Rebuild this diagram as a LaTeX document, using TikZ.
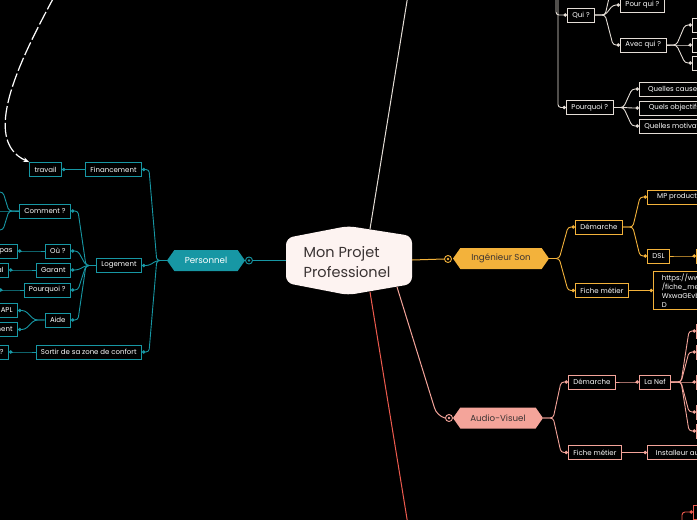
\documentclass[tikz,border=0pt]{standalone}
\usepackage{fontspec}
\setmainfont{Poppins}
\usetikzlibrary{arrows.meta, calc, shapes.symbols}
\definecolor{tealcolor}{HTML}{1797A4}
\definecolor{yellowcolor}{HTML}{F3B23B}
\definecolor{salmoncolor}{HTML}{F4A49A}
\definecolor{redcolor}{HTML}{EE5B4F}
\definecolor{whitecolor}{HTML}{E4DDD6}
\definecolor{rootfill}{HTML}{FDF3F1}
\definecolor{roottext}{HTML}{3A3333}

\tikzset{
  leaf/.style={draw=#1, fill=black, text=white, line width=0.9pt,
    font=\fontsize{7}{9}\selectfont, minimum height=14pt,
    inner xsep=5pt, inner ysep=2pt},
  topic/.style={signal, signal to=west and east, signal pointer angle=110,
    fill=#1, minimum height=21pt, inner xsep=4pt, inner ysep=0pt,
    font=\fontsize{8.7}{10}\selectfont},
  knob/.style={circle, draw=#1, fill=black, line width=0.9pt,
    minimum size=7pt, inner sep=0pt,
    path picture={\fill[#1] (path picture bounding box.center) circle (1.3pt);}},
  link/.style={draw=#1, line width=0.9pt, rounded corners=3pt,
    -{Circle[length=3.5pt]}},
  toR/.style={to path={-- ++(10,0) -- ($(\tikztotarget)+(-7,0)$) -- (\tikztotarget)}},
  toL/.style={to path={-- ++(-10,0) -- ($(\tikztotarget)+(7,0)$) -- (\tikztotarget)}},
}

\begin{document}
\begin{tikzpicture}[x=1pt, y=-1pt, >=Stealth]

  \fill[black] (0,0) rectangle (697,520);
  \useasboundingbox (0,0) rectangle (697,520);

  % centre
  \fill[rootfill, rounded corners=7pt]
    (286,238) -- (348,226) -- (412,236) -- (412,284) -- (348,295) -- (286,283) -- cycle;
  \node[minimum width=126pt, minimum height=50pt, inner sep=0pt, text=roottext,
    align=left, font=\fontsize{14.5}{20}\selectfont] (root) at (347,262)
    {Mon Projet\\Professionel};
  \coordinate (roottop) at (370,229);
  \coordinate (rootbot) at (370,292);
  \coordinate (rootav) at (397,287);
  \coordinate (wtout) at (408,-5);
  \coordinate (redout) at (408,525);

  \draw[whitecolor, line width=1pt] (roottop) -- (wtout);
  \draw[redcolor, line width=1pt] (rootbot) -- (redout);

  % Personnel
  \node[topic=tealcolor, text=white, minimum width=78pt] (pers) at (206,260.5) {Personnel};
  \node[knob=tealcolor] (persknob) at (249,260.5) {};
  \draw[tealcolor, line width=1pt] (286,260.5) -- (persknob.east);

  \node[leaf=tealcolor, anchor=east] (fin) at (142,169.5) {Financement};
  \node[leaf=tealcolor, anchor=east] (log) at (142,265.5) {Logement};
  \node[leaf=tealcolor, anchor=east] (sortir) at (142,352) {Sortir de sa zone de confort};
  \node[leaf=tealcolor, anchor=east] (trav) at (62,169.5) {travail};
  \node[leaf=tealcolor, anchor=east] (comm) at (71,211) {Comment ?};
  \node[leaf=tealcolor, anchor=east] (ou) at (71,251) {Où ?};
  \node[leaf=tealcolor, anchor=east] (gar) at (71,270) {Garant};
  \node[leaf=tealcolor, anchor=east] (pq) at (71,290) {Pourquoi ?};
  \node[leaf=tealcolor, anchor=east] (aide) at (71,320) {Aide};
  \node[leaf=tealcolor, anchor=east, text width=40pt, align=right] (pas) at (18,251) {pas};
  \node[leaf=tealcolor, anchor=east, text width=40pt, align=right] (al) at (9,270) {al};
  \node[leaf=tealcolor, anchor=east, text width=40pt, align=right] (apl) at (18,310.5) {APL};
  \node[leaf=tealcolor, anchor=east, text width=40pt, align=right] (ment) at (18,329.5) {ment};
  \node[leaf=tealcolor, anchor=east, text width=40pt, align=right] (sq) at (9,352) {?};
  \coordinate (cm1) at (-4,192);
  \coordinate (cm2) at (-4,211);
  \coordinate (cm3) at (-4,230);
  \coordinate (pqc) at (-1,290);

  \foreach \c in {fin,log,sortir}
    \draw[link=tealcolor] (pers.west) to[toL] (\c.east);
  \draw[link=tealcolor] (fin.west) to[toL] (trav.east);
  \foreach \c in {comm,ou,gar,pq,aide}
    \draw[link=tealcolor] (log.west) to[toL] (\c.east);
  \foreach \c in {cm1,cm2,cm3}
    \draw[link=tealcolor] (comm.west) to[toL] (\c);
  \draw[link=tealcolor] (ou.west) to[toL] (pas.east);
  \draw[link=tealcolor] (gar.west) to[toL] (al.east);
  \draw[link=tealcolor] (pq.west) to[toL] (pqc);
  \draw[link=tealcolor] (aide.west) to[toL] (apl.east);
  \draw[link=tealcolor] (aide.west) to[toL] (ment.east);
  \draw[link=tealcolor] (sortir.west) to[toL] (sq.east);

  \coordinate (dashstart) at (54,-3);
  \draw[white, line width=1.2pt, dash pattern=on 14pt off 3pt, -{Stealth[length=6pt]}]
    (dashstart) .. controls (20,60) and (-20,140) .. (trav.north west);

  % Ingenieur Son
  \node[topic=yellowcolor, text=roottext, minimum width=96pt] (ing) at (501,258.5) {Ingénieur Son};
  \node[knob=yellowcolor] (ingknob) at (448,259) {};
  \draw[yellowcolor, line width=1pt] (412,260) -- (ingknob.west);

  \node[leaf=yellowcolor, anchor=west] (dem1) at (575,227) {Démarche};
  \node[leaf=yellowcolor, anchor=west] (fiche1) at (575,290.5) {Fiche métier};
  \node[leaf=yellowcolor, anchor=west, minimum width=70pt, align=left] (mp) at (647,197) {MP production};
  \node[leaf=yellowcolor, anchor=west] (dsl) at (647,256) {DSL};
  \node[leaf=yellowcolor, anchor=west, minimum width=30pt] (dslc) at (696,256) {};
  \node[leaf=yellowcolor, anchor=west, minimum width=60pt, align=left] (url) at (653,290.5)
    {https://www\\/fiche\_met\\WxwaGEvb\\D};

  \draw[link=yellowcolor] (ing.east) to[toR] (dem1.west);
  \draw[link=yellowcolor] (ing.east) to[toR] (fiche1.west);
  \draw[link=yellowcolor] (dem1.east) to[toR] (mp.west);
  \draw[link=yellowcolor] (dem1.east) to[toR] (dsl.west);
  \draw[link=yellowcolor] (dsl.east) to[toR] (dslc.west);
  \draw[link=yellowcolor] (fiche1.east) to[toR] (url.west);

  % Audio-Visuel
  \node[topic=salmoncolor, text=roottext, minimum width=90pt] (av) at (498,418) {Audio-Visuel};
  \node[knob=salmoncolor] (avknob) at (449,418) {};
  \draw[salmoncolor, line width=1pt, rounded corners=8pt] (rootav) -- (437,416) -- (avknob.west);

  \node[leaf=salmoncolor, anchor=west] (dem2) at (568,382) {Démarche};
  \node[leaf=salmoncolor, anchor=west] (fiche2) at (568,452.5) {Fiche métier};
  \node[leaf=salmoncolor, anchor=west] (nef) at (639,382) {La Nef};
  \node[leaf=salmoncolor, anchor=west, minimum width=60pt] (inst) at (647,452.5) {Installeur au};
  \foreach \n/\y in {n1/331,n2/352,n3/382,n4/412,n5/431}
    \node[leaf=salmoncolor, anchor=west, minimum width=30pt] (\n) at (696,\y) {};

  \draw[link=salmoncolor] (av.east) to[toR] (dem2.west);
  \draw[link=salmoncolor] (av.east) to[toR] (fiche2.west);
  \draw[link=salmoncolor] (dem2.east) to[toR] (nef.west);
  \draw[link=salmoncolor] (fiche2.east) to[toR] (inst.west);
  \foreach \n in {n1,n2,n3,n4,n5}
    \draw[link=salmoncolor] (nef.east) to[toR] (\n.west);

  % bas
  \node[leaf=redcolor, anchor=west, minimum width=30pt] (redbox) at (693,512) {};
  \coordinate (redin) at (682,525);
  \draw[link=redcolor] (redin) |- (redbox.west);

  % haut
  \node[leaf=whitecolor, anchor=west] (qui) at (567,15) {Qui ?};
  \node[leaf=whitecolor, anchor=west] (pourquoi) at (566,107.5) {Pourquoi ?};
  \node[leaf=whitecolor, anchor=west] (pourqui) at (620,5) {Pour qui ?};
  \node[leaf=whitecolor, anchor=west] (avecqui) at (620,45) {Avec qui ?};
  \node[leaf=whitecolor, anchor=west, minimum width=70pt, align=left] (qc) at (639,89) {Quelles causes};
  \node[leaf=whitecolor, anchor=west, minimum width=70pt, align=left] (qo) at (639,108) {Quels objectifs};
  \node[leaf=whitecolor, anchor=west, minimum width=70pt, align=left] (qm) at (639,126) {Quelles motivations};
  \foreach \n/\y in {aq1/25,aq2/45,aq3/63}
    \node[leaf=whitecolor, anchor=west, minimum width=30pt] (\n) at (692,\y) {};
  \coordinate (wt1) at (556,-5);
  \coordinate (wt2) at (558,-5);
  \coordinate (qu0) at (620,-20);

  \draw[link=whitecolor] (wt1) |- (qui.west);
  \draw[link=whitecolor] (wt2) |- (pourquoi.west);
  \foreach \c in {pourqui,avecqui}
    \draw[link=whitecolor] (qui.east) to[toR] (\c.west);
  \draw[link=whitecolor] (qui.east) to[toR] (qu0);
  \foreach \c in {aq1,aq2,aq3}
    \draw[link=whitecolor] (avecqui.east) to[toR] (\c.west);
  \foreach \c in {qc,qo,qm}
    \draw[link=whitecolor] (pourquoi.east) to[toR] (\c.west);

\end{tikzpicture}
\end{document}
